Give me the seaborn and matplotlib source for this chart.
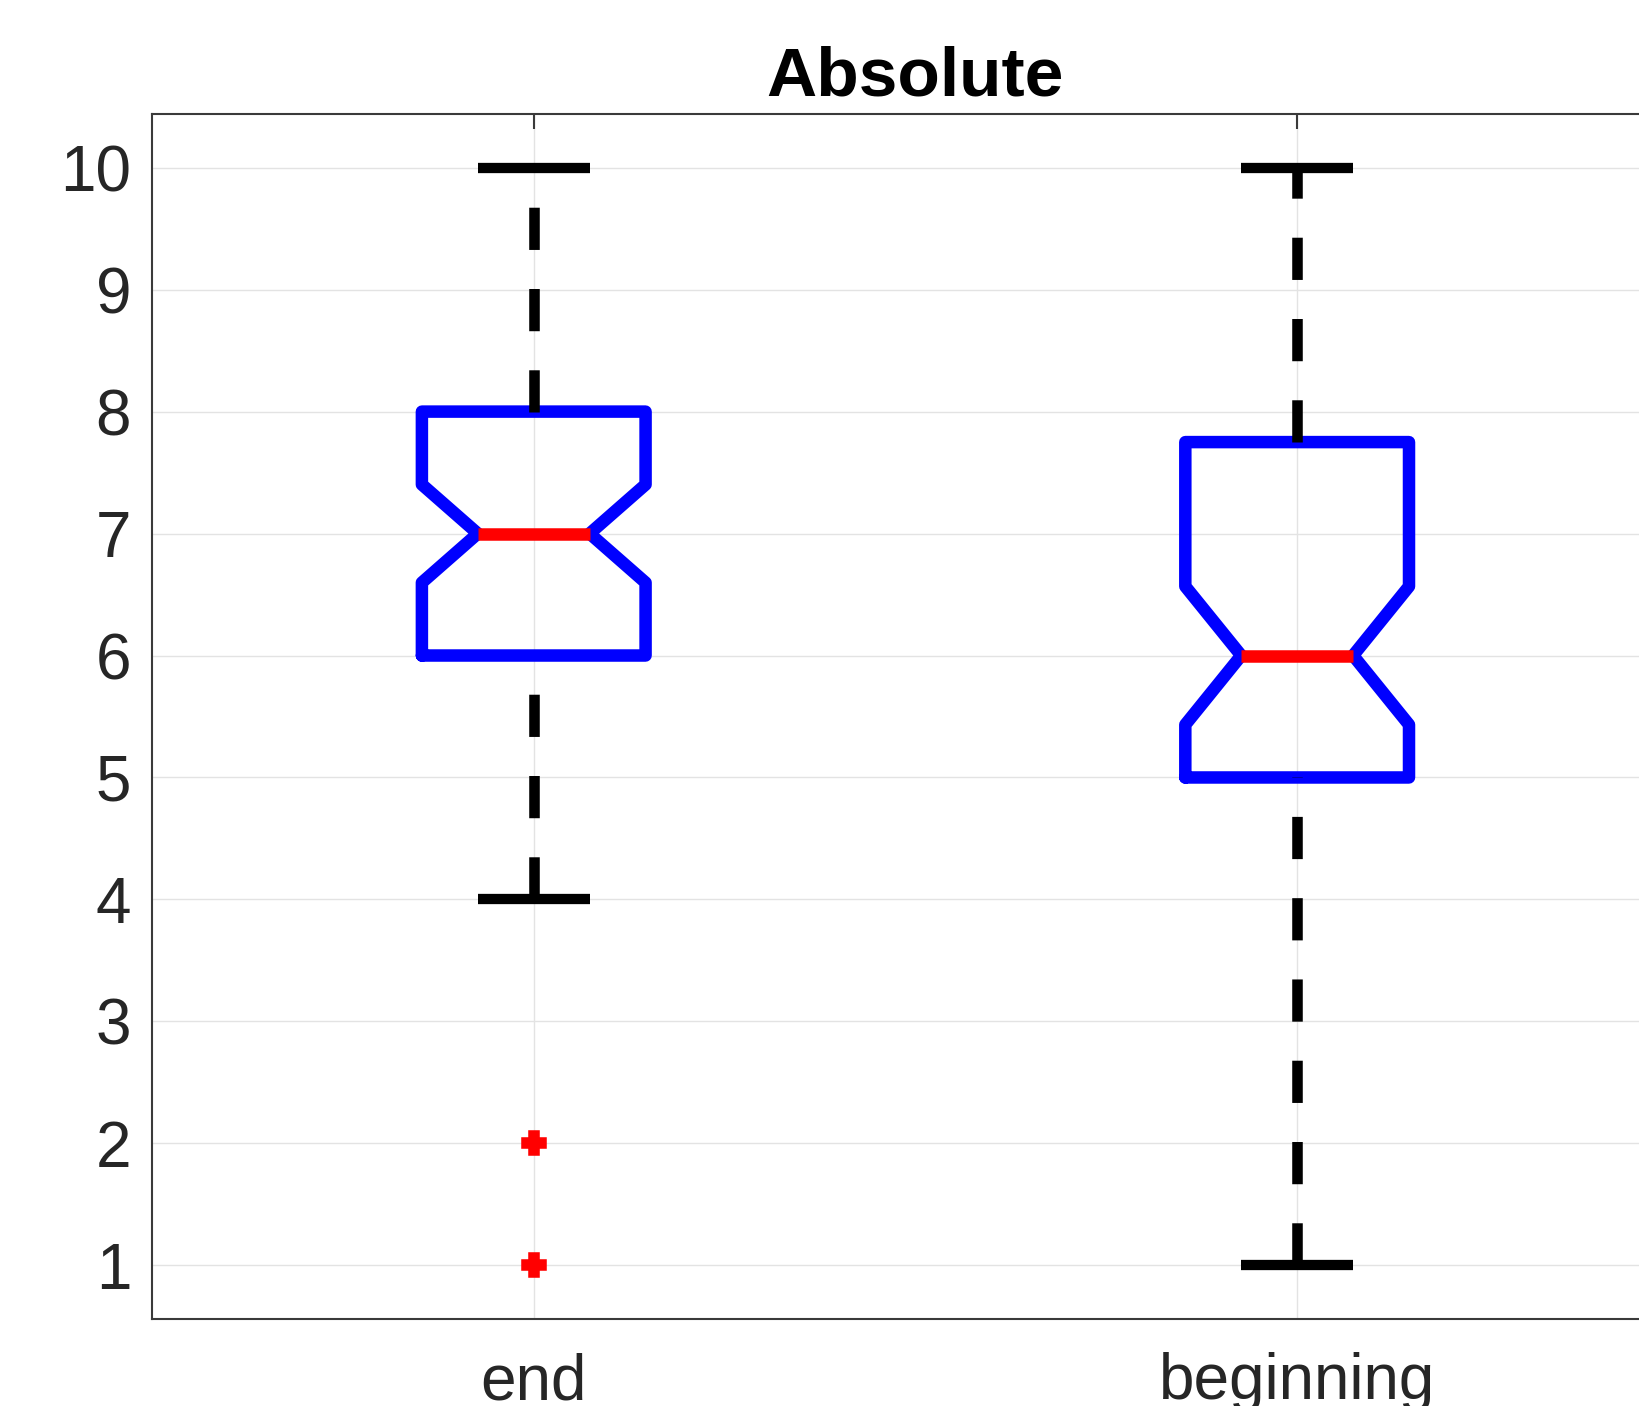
import numpy as np
import pandas as pd
import seaborn as sns
import matplotlib.pyplot as plt

# Data: answers per score for each group (estimated so the boxes, notches,
# whiskers and outliers match the chart)
groups = ["end", "beginning"]
scores = [1, 2, 3, 4, 5, 6, 7, 8, 9, 10]
end_counts = [1, 1, 0, 3, 8, 12, 14, 12, 6, 4]
beginning_counts = [2, 2, 3, 5, 10, 12, 9, 8, 4, 3]
y_ticks = [1, 2, 3, 4, 5, 6, 7, 8, 9, 10]
title = "Absolute"

rows = []
for g, counts in zip(groups, [end_counts, beginning_counts]):
    for s, c in zip(scores, counts):
        rows += [(g, s)] * c
df = pd.DataFrame(rows, columns=["group", "score"])

sns.set_style("whitegrid")
plt.rcParams["font.family"] = ["Liberation Sans", "DejaVu Sans"]

fig = plt.figure(figsize=(16.4, 14.06), dpi=100)
# axes run past the right edge of the picture, like the cropped original
ax = fig.add_axes([0.0927, 0.0619, 0.931, 0.857])

sns.boxplot(
    data=df, x="group", y="score", order=groups, ax=ax,
    notch=True, width=0.293, fill=False, whis=1.5, linewidth=7,
    boxprops=dict(color="blue", solid_joinstyle="round"),
    medianprops=dict(color="red"),
    whiskerprops=dict(color="black", linewidth=7.6, linestyle=(0, (4.0, 3.7))),
    capprops=dict(color="black", linewidth=7.4, solid_capstyle="butt"),
    flierprops=dict(marker="P", markerfacecolor="red", markeredgecolor="red",
                    markersize=15, markeredgewidth=4),
)

# draw whiskers bottom-to-top so the dash pattern starts like matlab's
for line in ax.lines:
    if line.get_linestyle() == "--":
        y = list(line.get_ydata())
        line.set_ydata(sorted(y))

# box outlines and medians as thick as the whiskers
for line in ax.lines:
    if line.get_color() in ("blue", "red"):
        line.set_linewidth(9.0)
        line.set_solid_joinstyle("round")

ax.set_xlim(-0.5, 1.5)
ax.set_ylim(0.56, 10.44)
ax.set_yticks(y_ticks)
ax.set_xlabel("")
ax.set_ylabel("")
ax.grid(True, color="#e3e3e3", linewidth=1.0)
ax.set_axisbelow(True)

for sp in ax.spines.values():
    sp.set_color("#3a3a3a")
    sp.set_linewidth(1.5)

ax.tick_params(axis="both", direction="in", length=10.8, width=1.5,
               color="#3a3a3a", labelsize=46, labelcolor="#262626",
               top=True, right=True)
ax.tick_params(axis="y", pad=15)
ax.tick_params(axis="x", pad=24)

ax.set_title(title, fontsize=50, fontweight="bold", pad=13, color="black")

fig.savefig("out.png", dpi=100)
